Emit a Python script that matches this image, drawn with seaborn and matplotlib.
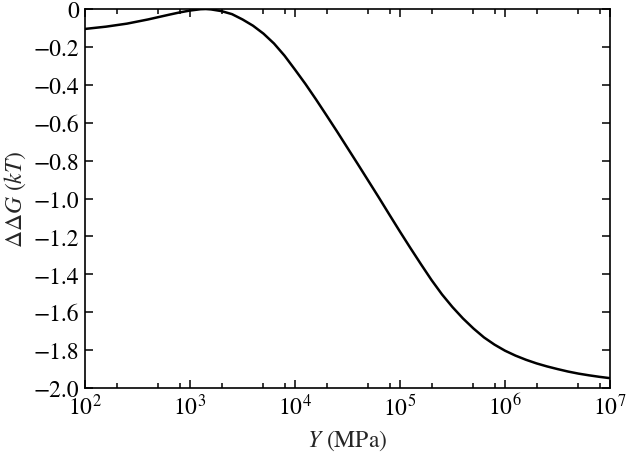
import numpy as np
import pandas as pd
import matplotlib
matplotlib.use("Agg")
import matplotlib.pyplot as plt
import seaborn as sns
from matplotlib.ticker import LogLocator, FixedLocator, FuncFormatter, NullFormatter

# Data (log10 of Y in MPa, ΔΔG in kT)
log_y = [2.0, 2.2, 2.4, 2.6, 2.8, 2.9, 3.0, 3.1, 3.15, 3.2, 3.3, 3.4, 3.5, 3.6, 3.7, 3.8, 3.9,
         4.0, 4.1, 4.2, 4.3, 4.4, 4.5, 4.6, 4.7, 4.8, 4.9, 5.0, 5.1, 5.2, 5.3, 5.4, 5.5,
         5.6, 5.7, 5.8, 5.9, 6.0, 6.1, 6.2, 6.3, 6.4, 6.5, 6.6, 6.7, 6.8, 6.9, 7.0]
ddg = [-0.105, -0.093, -0.077, -0.055, -0.03, -0.018, -0.008, -0.001, 0.0, -0.002, -0.011,
       -0.027, -0.055, -0.088, -0.13, -0.182, -0.246, -0.320, -0.396, -0.477, -0.561, -0.646,
       -0.733, -0.820, -0.908, -0.996, -1.086, -1.175, -1.262, -1.347, -1.430, -1.506, -1.573,
       -1.633, -1.686, -1.733, -1.771, -1.803, -1.829, -1.851, -1.870, -1.886, -1.900, -1.913,
       -1.924, -1.933, -1.941, -1.948]
y_ticks = [0, -0.2, -0.4, -0.6, -0.8, -1.0, -1.2, -1.4, -1.6, -1.8, -2.0]
x_ticks = [1e2, 1e3, 1e4, 1e5, 1e6, 1e7]

df = pd.DataFrame({"Y": [10 ** v for v in log_y], "ddG": ddg})

sns.set_style("ticks")
plt.rcParams["font.family"] = ["STIXGeneral", "Liberation Serif", "DejaVu Serif"]
plt.rcParams["mathtext.fontset"] = "stix"
plt.rcParams["axes.unicode_minus"] = True

fig = plt.figure(figsize=(6.28, 4.56), dpi=100)
ax = fig.add_axes([0.1354, 0.1469, 0.9713 - 0.1354, 0.978 - 0.1469])
sns.lineplot(data=df, x="Y", y="ddG", ax=ax, color="black", linewidth=1.8)
ax.set_xscale("log")
ax.set_xlim(1e2, 1e7)
ax.set_ylim(-2.0, 0)

ax.xaxis.set_major_locator(FixedLocator(x_ticks))
ax.xaxis.set_major_formatter(FuncFormatter(lambda v, p: r"$10^{%d}$" % round(np.log10(v))))
ax.xaxis.set_minor_locator(LogLocator(base=10, subs=(2, 5, 8)))
ax.xaxis.set_minor_formatter(NullFormatter())

ax.yaxis.set_major_locator(FixedLocator(y_ticks))
def yfmt(v, p):
    if abs(v) < 1e-9:
        return "0"
    return ("%.1f" % v).replace("-", "\u2212")
ax.yaxis.set_major_formatter(FuncFormatter(yfmt))

ax.tick_params(which="both", direction="in", top=True, right=True, width=1.1,
               labelsize=17, pad=4, colors="black")
ax.tick_params(which="major", length=6)
ax.tick_params(which="minor", length=3.8)
for s in ax.spines.values():
    s.set_linewidth(1.2)
    s.set_color("black")

ax.set_xlabel(r"$Y$ (MPa)", fontsize=17, labelpad=6)
ax.set_ylabel(r"$\Delta\Delta G$ ($kT$)", fontsize=17, labelpad=4)

fig.savefig("out.png", dpi=100)
